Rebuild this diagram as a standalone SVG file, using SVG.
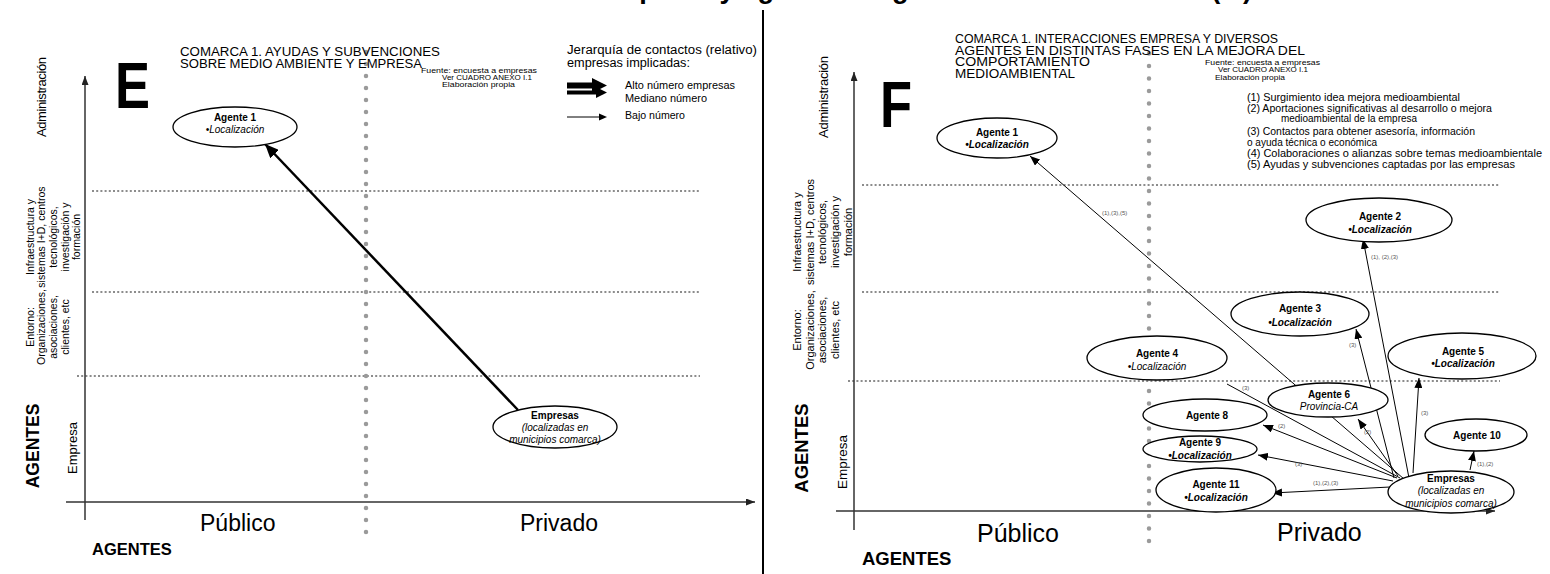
<svg xmlns="http://www.w3.org/2000/svg" width="1550" height="574" viewBox="0 0 1550 574">
<defs>
<style>
text{font-family:"Liberation Sans",Arial,sans-serif;fill:#000}
.b{font-weight:bold}
.i{font-style:italic}
.bi{font-weight:bold;font-style:italic}
.nd ellipse{fill:#fff;stroke:#000;stroke-width:1.3}
.nd text{font-size:10px;text-anchor:middle}
.gh{stroke:#8c8c8c;stroke-width:2;stroke-dasharray:2 2.2;fill:none}
.gv{stroke:#9a9a9a;stroke-width:4.5;stroke-linecap:round;fill:none}
.ax{stroke:#333;stroke-width:1.5;fill:none}
.cn{stroke:#000;stroke-width:1;fill:none}
.lb{font-size:6px;fill:#555}
.rot{text-anchor:middle}
</style>
<marker id="ah" markerWidth="10" markerHeight="8" refX="10" refY="4" orient="auto" markerUnits="userSpaceOnUse"><path d="M0,0 L10,4 L0,8 z" fill="#000"/></marker>
<marker id="ahE" markerWidth="14" markerHeight="12" refX="14" refY="6" orient="auto" markerUnits="userSpaceOnUse"><path d="M0,0 L14,6 L0,12 z" fill="#000"/></marker>
<marker id="axh" markerWidth="9" markerHeight="7" refX="9" refY="3.5" orient="auto" markerUnits="userSpaceOnUse"><path d="M0,0 L9,3.5 L0,7 z" fill="#222"/></marker>
</defs>
<rect width="1550" height="574" fill="#fff"/>

<!-- clipped title -->
<text x="600" y="-2" class="b" font-size="28.5" textLength="652" lengthAdjust="spacingAndGlyphs">empresa y agentes de gestión medioambiental (III)</text>

<!-- divider -->
<line x1="763" y1="10" x2="763" y2="574" stroke="#000" stroke-width="2"/>

<!-- ===== PANEL E ===== -->
<g id="panel-e-grid">
<line class="gh" x1="92" y1="191" x2="700" y2="191"/>
<line class="gh" x1="92" y1="292" x2="700" y2="292"/>
<line class="gh" x1="77" y1="376" x2="700" y2="376"/>
<line class="gv" x1="366" y1="52" x2="366" y2="533" stroke-dasharray="0 12"/>
<line class="ax" x1="85" y1="520" x2="85" y2="76" marker-end="url(#axh)"/>
<line class="ax" x1="66" y1="502" x2="755" y2="502" marker-end="url(#axh)"/>
</g>
<g id="panel-e-text">
<text x="180" y="56" font-size="12.5" textLength="260" lengthAdjust="spacingAndGlyphs">COMARCA 1. AYUDAS Y SUBVENCIONES</text>
<text x="180" y="67.5" font-size="12.5" textLength="242" lengthAdjust="spacingAndGlyphs">SOBRE MEDIO AMBIENTE Y EMPRESA</text>
<text transform="translate(115,108) scale(0.82,1)" class="b" font-size="64">E</text>
<text x="421" y="73" font-size="8" textLength="116" lengthAdjust="spacingAndGlyphs">Fuente: encuesta a empresas</text>
<text x="442" y="80" font-size="8" textLength="90" lengthAdjust="spacingAndGlyphs">Ver CUADRO ANEXO I.1</text>
<text x="442" y="87" font-size="8" textLength="73" lengthAdjust="spacingAndGlyphs">Elaboración propia</text>
<text x="567" y="54" font-size="12.5" textLength="190" lengthAdjust="spacingAndGlyphs">Jerarquía de contactos (relativo)</text>
<text x="567" y="66.5" font-size="12.5" textLength="123" lengthAdjust="spacingAndGlyphs">empresas implicadas:</text>
<text x="625" y="89" font-size="10.5" textLength="110" lengthAdjust="spacingAndGlyphs">Alto número empresas</text>
<text x="625" y="102" font-size="10.5" textLength="82" lengthAdjust="spacingAndGlyphs">Mediano número</text>
<text x="625" y="119" font-size="10.5" textLength="60" lengthAdjust="spacingAndGlyphs">Bajo número</text>
<text class="rot" transform="translate(46,97) rotate(-90)" font-size="13" textLength="80" lengthAdjust="spacing">Administración</text>
<text class="rot" transform="translate(33.5,237) rotate(-90)" font-size="10.5">Infraestructura y</text>
<text class="rot" transform="translate(45.2,237) rotate(-90)" font-size="10.5">sistemas I+D, centros</text>
<text class="rot" transform="translate(56.9,237) rotate(-90)" font-size="10.5">tecnológicos,</text>
<text class="rot" transform="translate(68.6,237) rotate(-90)" font-size="10.5">investigación y</text>
<text class="rot" transform="translate(80.3,237) rotate(-90)" font-size="10.5">formación</text>
<text class="rot" transform="translate(33.5,327) rotate(-90)" font-size="10.5">Entorno:</text>
<text class="rot" transform="translate(45.2,327) rotate(-90)" font-size="10.5">Organizaciones,</text>
<text class="rot" transform="translate(56.9,327) rotate(-90)" font-size="10.5">asociaciones,</text>
<text class="rot" transform="translate(68.6,327) rotate(-90)" font-size="10.5">clientes, etc</text>
<text class="rot" transform="translate(76.5,448) rotate(-90)" font-size="13">Empresa</text>
<text class="rot b" transform="translate(38.5,446) rotate(-90)" font-size="17.5">AGENTES</text>
<text x="200" y="531" font-size="23">Público</text>
<text x="520" y="531" font-size="23">Privado</text>
<text x="92" y="555" class="b" font-size="16.5">AGENTES</text>
</g>
<g id="legend-e">
<path d="M567,82.5 H592 V78 L607,85.5 L592,93 V88.5 H567 z" fill="#000"/>
<path d="M567,90.5 H596 V87 L607,92.5 L596,98 V94.5 H567 z" fill="#000"/>
<line x1="567" y1="117" x2="600" y2="117" stroke="#000" stroke-width="1"/>
<path d="M599,113.5 L607,117 L599,120.5 z" fill="#000"/>
</g>

<g id="connectors-e">
<line x1="518" y1="410" x2="265" y2="144" stroke="#000" stroke-width="2.5" marker-end="url(#ahE)"/>
</g>

<g id="e-agente1" class="nd">
<ellipse cx="235" cy="127" rx="62" ry="20"/>
<text x="235" y="121" class="b">Agente 1</text>
<text x="235" y="133" class="i">•Localización</text>
</g>
<g id="e-empresas" class="nd">
<ellipse cx="555" cy="427" rx="62" ry="21"/>
<text x="555" y="419" class="b">Empresas</text>
<text x="555" y="431" class="i" font-size="10.5">(localizadas en</text>
<text x="555" y="443" class="i" font-size="10.5">municipios comarca)</text>
</g>

<!-- ===== PANEL F ===== -->
<g id="panel-f-grid">
<line class="gh" x1="862" y1="185" x2="1500" y2="185"/>
<line class="gh" x1="862" y1="292" x2="1500" y2="292"/>
<line class="gh" x1="848" y1="381" x2="1500" y2="381"/>
<line class="gv" x1="1149" y1="53.5" x2="1149" y2="542" stroke-dasharray="0 12.5"/>
<line class="ax" x1="854" y1="530" x2="854" y2="72" marker-end="url(#axh)"/>
<line class="ax" x1="836" y1="511" x2="1495" y2="511" marker-end="url(#axh)"/>
</g>
<g id="panel-f-text">
<text x="955" y="43" font-size="12.5" textLength="323" lengthAdjust="spacingAndGlyphs">COMARCA 1. INTERACCIONES EMPRESA Y DIVERSOS</text>
<text x="955" y="54.5" font-size="12.5" textLength="350" lengthAdjust="spacingAndGlyphs">AGENTES EN DISTINTAS FASES EN LA MEJORA DEL</text>
<text x="955" y="66" font-size="12.5" textLength="135" lengthAdjust="spacingAndGlyphs">COMPORTAMIENTO</text>
<text x="955" y="77.5" font-size="12.5" textLength="120" lengthAdjust="spacingAndGlyphs">MEDIOAMBIENTAL</text>
<text transform="translate(880,127) scale(0.82,1)" class="b" font-size="64">F</text>
<text x="1205" y="64.5" font-size="8" textLength="115" lengthAdjust="spacingAndGlyphs">Fuente: encuesta a empresas</text>
<text x="1218" y="72" font-size="8" textLength="90" lengthAdjust="spacingAndGlyphs">Ver CUADRO ANEXO I.1</text>
<text x="1215" y="79.5" font-size="8" textLength="70" lengthAdjust="spacingAndGlyphs">Elaboración propia</text>
<text x="1247" y="100.5" font-size="10.5" textLength="213" lengthAdjust="spacingAndGlyphs">(1) Surgimiento idea mejora medioambiental</text>
<text x="1247" y="111.5" font-size="10.5" textLength="245" lengthAdjust="spacingAndGlyphs">(2) Aportaciones significativas al desarrollo o mejora</text>
<text x="1281" y="122" font-size="10.5" textLength="136" lengthAdjust="spacingAndGlyphs">medioambiental de la empresa</text>
<text x="1247" y="134.5" font-size="10.5" textLength="228" lengthAdjust="spacingAndGlyphs">(3) Contactos para obtener asesoría, información</text>
<text x="1247" y="145.5" font-size="10.5" textLength="130" lengthAdjust="spacingAndGlyphs">o ayuda técnica o económica</text>
<text x="1247" y="156.5" font-size="10.5" textLength="295" lengthAdjust="spacingAndGlyphs">(4) Colaboraciones o alianzas sobre temas medioambientale</text>
<text x="1247" y="167.5" font-size="10.5" textLength="268" lengthAdjust="spacingAndGlyphs">(5) Ayudas y subvenciones captadas por las empresas</text>
<text class="rot" transform="translate(828,97) rotate(-90)" font-size="13" textLength="82" lengthAdjust="spacing">Administración</text>
<text class="rot" transform="translate(800.7,232) rotate(-90)" font-size="11">Infraestructura y</text>
<text class="rot" transform="translate(813.5,232) rotate(-90)" font-size="11">sistemas I+D, centros</text>
<text class="rot" transform="translate(826.3,232) rotate(-90)" font-size="11">tecnológicos,</text>
<text class="rot" transform="translate(839.1,232) rotate(-90)" font-size="11">investigación y</text>
<text class="rot" transform="translate(851.5,232) rotate(-90)" font-size="11">formación</text>
<text class="rot" transform="translate(800.7,330) rotate(-90)" font-size="11">Entorno:</text>
<text class="rot" transform="translate(813.5,330) rotate(-90)" font-size="11">Organizaciones,</text>
<text class="rot" transform="translate(826.3,330) rotate(-90)" font-size="11">asociaciones,</text>
<text class="rot" transform="translate(839.1,330) rotate(-90)" font-size="11">clientes, etc</text>
<text class="rot" transform="translate(846.5,462) rotate(-90)" font-size="13.5">Empresa</text>
<text class="rot b" transform="translate(807.5,448) rotate(-90)" font-size="18.5">AGENTES</text>
<text x="977" y="542" font-size="25">Público</text>
<text x="1277" y="541" font-size="25">Privado</text>
<text x="862" y="565" class="b" font-size="18.5">AGENTES</text>
</g>

<g id="connectors-f">
<line class="cn" x1="1404" y1="479" x2="1030" y2="156" marker-end="url(#ah)"/>
<line class="cn" x1="1409" y1="478" x2="1363" y2="239" marker-end="url(#ah)"/>
<line class="cn" x1="1394" y1="478" x2="1356" y2="329" marker-end="url(#ah)"/>
<line class="cn" x1="1400" y1="478" x2="1227" y2="384"/>
<line class="cn" x1="1413" y1="473" x2="1419" y2="378" marker-end="url(#ah)"/>
<line class="cn" x1="1398" y1="476" x2="1358" y2="419" marker-end="url(#ah)"/>
<line class="cn" x1="1397" y1="478" x2="1263" y2="425" marker-end="url(#ah)"/>
<line class="cn" x1="1393" y1="481" x2="1258" y2="455" marker-end="url(#ah)"/>
<line class="cn" x1="1390" y1="487" x2="1272" y2="493" marker-end="url(#ah)"/>
<line class="cn" x1="1470" y1="470" x2="1474" y2="451" marker-end="url(#ah)"/>
<text class="lb" x="1102" y="215">(1),(3),(5)</text>
<text class="lb" x="1371" y="259">(1), (2),(3)</text>
<text class="lb" x="1349" y="347">(3)</text>
<text class="lb" x="1242" y="390">(3)</text>
<text class="lb" x="1421" y="415">(3)</text>
<text class="lb" x="1364" y="434">(2)</text>
<text class="lb" x="1278" y="428">(2)</text>
<text class="lb" x="1295" y="466">(3)</text>
<text class="lb" x="1477" y="466">(1),(2)</text>
<text class="lb" x="1313" y="485">(1),(2),(3)</text>
</g>

<g id="f-agente1" class="nd">
<ellipse cx="997" cy="138" rx="60" ry="20"/>
<text x="997" y="136" class="b">Agente 1</text>
<text x="997" y="148" class="bi">•Localización</text>
</g>
<g id="f-agente2" class="nd">
<ellipse cx="1379" cy="220" rx="73" ry="22"/>
<text x="1380" y="219.5" class="b">Agente 2</text>
<text x="1380" y="233" class="bi">•Localización</text>
</g>
<g id="f-agente3" class="nd">
<ellipse cx="1300" cy="314" rx="69" ry="22"/>
<text x="1300" y="312" class="b">Agente 3</text>
<text x="1300" y="326" class="bi">•Localización</text>
</g>
<g id="f-agente4" class="nd">
<ellipse cx="1157" cy="358" rx="70" ry="22"/>
<text x="1157" y="356.5" class="b">Agente 4</text>
<text x="1157" y="369.5" class="i">•Localización</text>
</g>
<g id="f-agente5" class="nd">
<ellipse cx="1462" cy="356" rx="74" ry="23"/>
<text x="1463" y="354.5" class="b">Agente 5</text>
<text x="1463" y="367" class="bi">•Localización</text>
</g>
<g id="f-agente6" class="nd">
<ellipse cx="1328" cy="400" rx="60" ry="17"/>
<text x="1329" y="397.5" class="b">Agente 6</text>
<text x="1329" y="410" class="i">Provincia-CA</text>
</g>
<g id="f-agente8" class="nd">
<ellipse cx="1205" cy="415" rx="62" ry="16"/>
<text x="1207" y="418.5" class="b">Agente 8</text>
</g>
<g id="f-agente9" class="nd">
<ellipse cx="1200" cy="449" rx="57" ry="13"/>
<text x="1200" y="446" class="b">Agente 9</text>
<text x="1200" y="459" class="bi">•Localización</text>
</g>
<g id="f-agente10" class="nd">
<ellipse cx="1476" cy="435" rx="51" ry="16"/>
<text x="1477" y="438.5" class="b">Agente 10</text>
</g>
<g id="f-agente11" class="nd">
<ellipse cx="1216" cy="490" rx="60" ry="22"/>
<text x="1216" y="487.5" class="b">Agente 11</text>
<text x="1216" y="500.5" class="bi">•Localización</text>
</g>
<g id="f-empresas" class="nd">
<ellipse cx="1451" cy="492" rx="63" ry="21"/>
<text x="1451" y="482" class="b">Empresas</text>
<text x="1451" y="494" class="i" font-size="10.5">(localizadas en</text>
<text x="1451" y="507" class="i" font-size="10.5">municipios comarca)</text>
</g>
</svg>
